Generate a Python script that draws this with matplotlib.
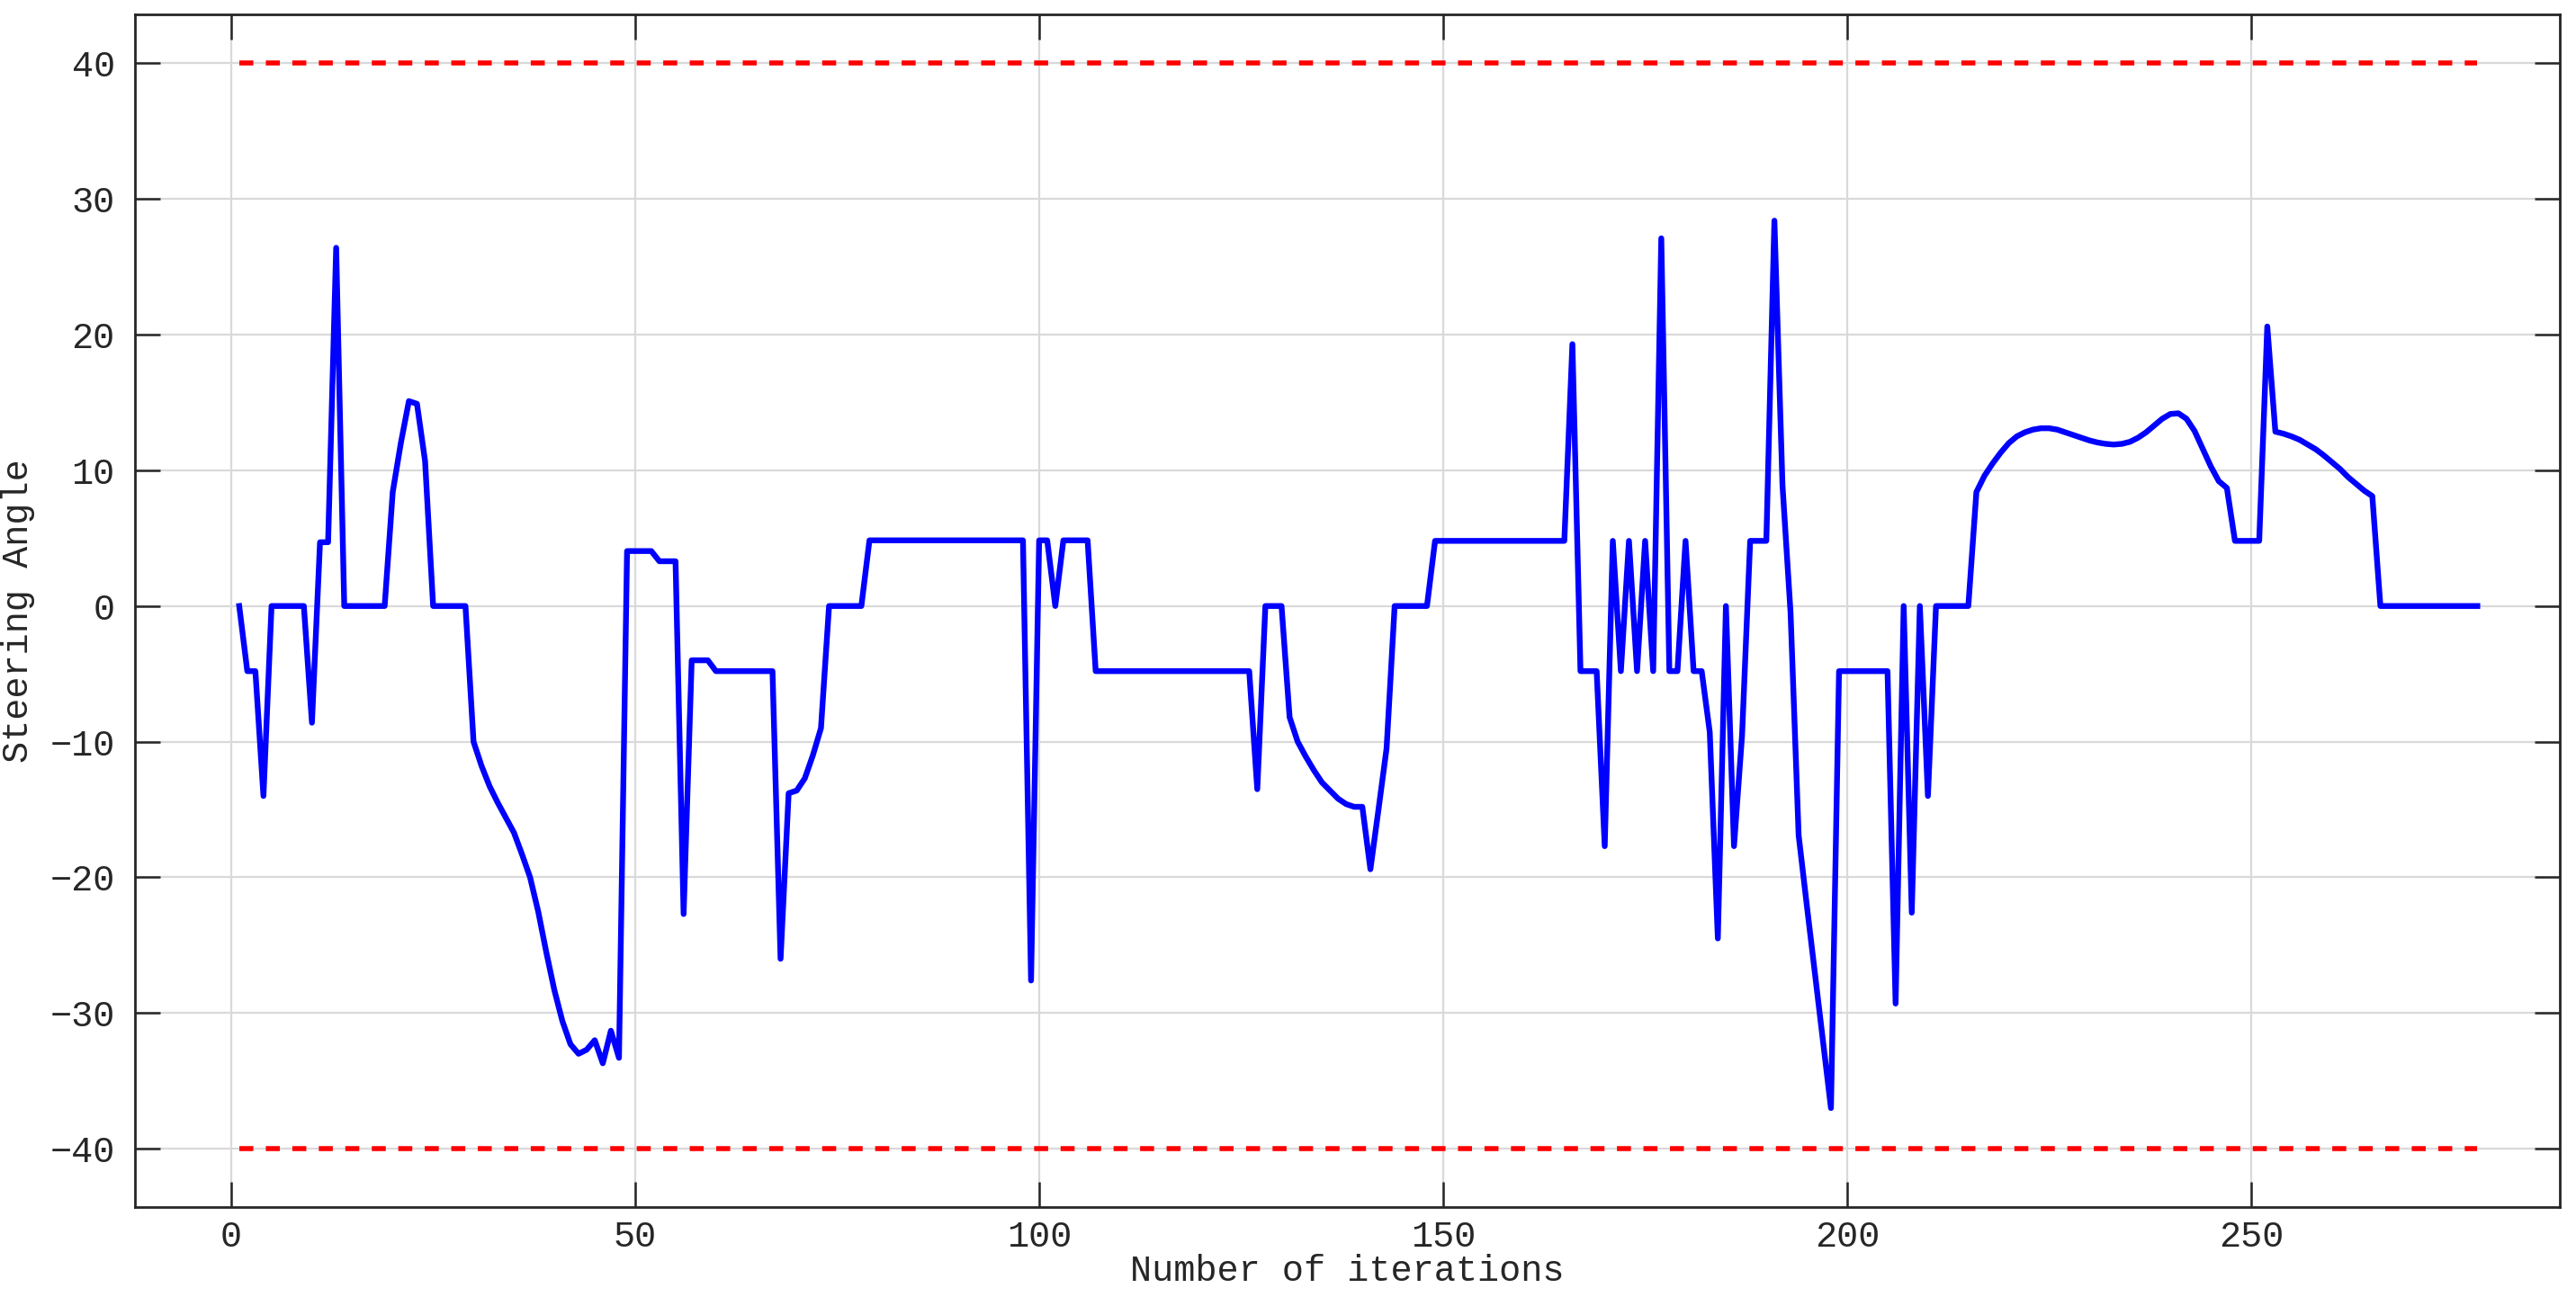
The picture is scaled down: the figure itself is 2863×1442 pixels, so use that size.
import numpy as np
import matplotlib
matplotlib.use("Agg")
from matplotlib import pyplot as plt

# steering angle per iteration
steering = [
    0, -4.8, -4.8, -14.0, 0, 0, 0, 0, 0, -8.6,
    4.7, 4.7, 26.4, 0, 0, 0, 0, 0, 0, 8.4,
    12.0, 15.1, 14.9, 10.7, 0, 0, 0, 0, 0, -10.0,
    -11.8, -13.3, -14.5, -15.6, -16.7, -18.3, -20.0, -22.5, -25.5, -28.3,
    -30.6, -32.3, -33.0, -32.7, -32.0, -33.7, -31.3, -33.3, 4.05, 4.05,
    4.05, 4.05, 3.3, 3.3, 3.3, -22.7, -4.0, -4.0, -4.0, -4.8,
    -4.8, -4.8, -4.8, -4.8, -4.8, -4.8, -4.8, -26.0, -13.8, -13.6,
    -12.7, -11.0, -9.0, 0, 0, 0, 0, 0, 4.84, 4.84,
    4.84, 4.84, 4.84, 4.84, 4.84, 4.84, 4.84, 4.84, 4.84, 4.84,
    4.84, 4.84, 4.84, 4.84, 4.84, 4.84, 4.84, 4.84, -27.6, 4.84,
    4.84, 0, 4.84, 4.84, 4.84, 4.84, -4.8, -4.8, -4.8, -4.8,
    -4.8, -4.8, -4.8, -4.8, -4.8, -4.8, -4.8, -4.8, -4.8, -4.8,
    -4.8, -4.8, -4.8, -4.8, -4.8, -4.8, -13.5, 0, 0, 0,
    -8.2, -10.0, -11.1, -12.1, -13.0, -13.6, -14.2, -14.6, -14.8, -14.8,
    -19.4, -15.0, -10.5, 0, 0, 0, 0, 0, 4.8, 4.8,
    4.8, 4.8, 4.8, 4.8, 4.8, 4.8, 4.8, 4.8, 4.8, 4.8,
    4.8, 4.8, 4.8, 4.8, 4.8, 19.3, -4.8, -4.8, -4.8, -17.7,
    4.8, -4.8, 4.8, -4.8, 4.8, -4.8, 27.1, -4.8, -4.8, 4.8,
    -4.8, -4.8, -9.3, -24.5, 0, -17.7, -9.5, 4.8, 4.8, 4.8,
    28.4, 8.9, -0.5, -16.9, -22.0, -27.0, -32.0, -37.0, -4.8, -4.8,
    -4.8, -4.8, -4.8, -4.8, -4.8, -29.3, 0, -22.6, 0, -14.0,
    0, 0, 0, 0, 0, 8.4, 9.6, 10.5, 11.3, 12.0,
    12.5, 12.8, 13.0, 13.1, 13.1, 13.0, 12.8, 12.6, 12.4, 12.2,
    12.05, 11.95, 11.9, 11.95, 12.1, 12.4, 12.8, 13.3, 13.8, 14.15,
    14.2, 13.8, 12.9, 11.6, 10.3, 9.2, 8.7, 4.8, 4.8, 4.8,
    4.8, 20.6, 12.85, 12.7, 12.5, 12.25, 11.9, 11.55, 11.1, 10.6,
    10.1, 9.5, 9.0, 8.5, 8.1, 0, 0, 0, 0, 0,
    0, 0, 0, 0, 0, 0, 0, 0,
]
iterations = np.arange(1, len(steering) + 1)

upper_limit = 40
lower_limit = -40

x_ticks = [0, 50, 100, 150, 200, 250]
y_ticks = [-40, -30, -20, -10, 0, 10, 20, 30, 40]

plt.rcParams['font.family'] = ['Liberation Mono', 'DejaVu Sans Mono']
plt.rcParams['font.size'] = 14.5

fig = plt.figure(figsize=(14.315, 7.21), dpi=200)
ax = fig.add_axes([0.0524, 0.0693, 0.9413, 0.9196])

ax.plot([iterations[0], iterations[-1]], [upper_limit, upper_limit],
        color='#ff0000', linestyle=(0, (2.8, 2.5)), linewidth=2.0)
ax.plot([iterations[0], iterations[-1]], [lower_limit, lower_limit],
        color='#ff0000', linestyle=(0, (2.8, 2.5)), linewidth=2.0)
ax.plot(iterations, steering, color='#0000ff', linewidth=2.3)

ax.set_xlim(-11.9, 288.2)
ax.set_ylim(-44.3, 43.6)
ax.set_xticks(x_ticks)
ax.set_yticks(y_ticks)

ax.grid(True, color='#d9d9d9', linewidth=0.8)
ax.set_axisbelow(True)

for side in ax.spines.values():
    side.set_color('#262626')
    side.set_linewidth(1.0)

ax.tick_params(direction='in', length=10, width=0.9, color='#262626',
               top=True, right=True, labelcolor='#262626')
ax.tick_params(axis='y', pad=8)
ax.tick_params(axis='x', pad=5)

ax.set_xlabel('Number of iterations', labelpad=0, color='#262626')
ax.set_ylabel('Steering Angle', labelpad=6, color='#262626')

fig.savefig('out.png', dpi=200)
